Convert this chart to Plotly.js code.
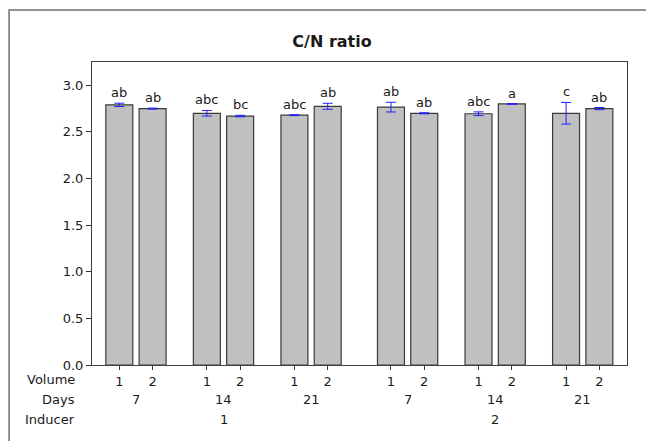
<!DOCTYPE html>
<html>
<head>
<meta charset="utf-8">
<script src="https://cdn.plot.ly/plotly-3.0.1.min.js"></script>
<style>html,body{margin:0;padding:0;background:#fff;}#chart{width:646px;height:441px;}</style>
</head>
<body>
<div id="chart"></div>
<script>
// ---- data ----
const inducer = [1, 1, 1, 1, 1, 1, 2, 2, 2, 2, 2, 2];
const days    = [7, 7, 14, 14, 21, 21, 7, 7, 14, 14, 21, 21];
const volume  = [1, 2, 1, 2, 1, 2, 1, 2, 1, 2, 1, 2];
const cnRatio = [2.79, 2.75, 2.70, 2.67, 2.68, 2.775, 2.766, 2.70, 2.695, 2.80, 2.70, 2.75];
const cnError = [0.018, 0.005, 0.03, 0.008, 0.005, 0.032, 0.052, 0.006, 0.02, 0.004, 0.116, 0.012];
const letters = ['ab', 'ab', 'abc', 'bc', 'abc', 'ab', 'ab', 'ab', 'abc', 'a', 'c', 'ab'];
const dayLevels = [7, 14, 21];
const inducerLevels = [1, 2];

// ---- layout of positions (spacing constants) ----
const GAP_DAY = 2.63, GAP_IND = 8.16;
const xpos = inducer.map((ind, i) =>
  (ind - 1) * GAP_IND + dayLevels.indexOf(days[i]) * GAP_DAY + (volume[i] - 1));

const FONT = 'DejaVu Sans, Verdana, sans-serif';
const TXT = '#1a1a1a';

const trace = {
  type: 'bar',
  x: xpos,
  y: cnRatio,
  width: 0.81,
  marker: {color: '#c0c0c0', line: {color: '#3a3a3a', width: 1.2}},
  error_y: {type: 'data', array: cnError, visible: true, color: '#2020ff', thickness: 1, width: 5},
  hoverinfo: 'none'
};

const annotations = [];
// significance letters
xpos.forEach((x, i) => {
  annotations.push({
    x: x, y: cnRatio[i] + cnError[i], xref: 'x', yref: 'y',
    text: letters[i], showarrow: false, yanchor: 'bottom', yshift: 1,
    font: {family: FONT, size: 13, color: TXT}
  });
});
// row labels
const rowY = {Volume: -0.0495, Days: -0.1155, Inducer: -0.1815};
Object.keys(rowY).forEach(k => {
  annotations.push({
    x: -0.028, y: rowY[k], xref: 'paper', yref: 'paper', text: k,
    showarrow: false, xanchor: 'right', yanchor: 'middle',
    font: {family: FONT, size: 13, color: TXT}
  });
});
// days labels
for (let i = 0; i < xpos.length; i += 2) {
  annotations.push({
    x: (xpos[i] + xpos[i + 1]) / 2, y: rowY.Days, xref: 'x', yref: 'paper',
    text: String(days[i]), showarrow: false, xanchor: 'center', yanchor: 'middle',
    font: {family: FONT, size: 13, color: TXT}
  });
}
// inducer labels
inducerLevels.forEach(lv => {
  const xs = xpos.filter((x, i) => inducer[i] === lv);
  annotations.push({
    x: (Math.min(...xs) + Math.max(...xs)) / 2, y: rowY.Inducer, xref: 'x', yref: 'paper',
    text: String(lv), showarrow: false, xanchor: 'center', yanchor: 'middle',
    font: {family: FONT, size: 13, color: TXT}
  });
});

const layout = {
  width: 646, height: 441,
  margin: {l: 92, r: 19, t: 62, b: 76, pad: 0},
  paper_bgcolor: '#ffffff', plot_bgcolor: '#ffffff',
  showlegend: false,
  title: {
    text: '<b>C/N ratio</b>', xref: 'container', yref: 'container',
    x: 0.514, xanchor: 'center', y: 0.905, yanchor: 'middle',
    font: {family: FONT, size: 16, color: TXT}
  },
  xaxis: {
    range: [-0.82, 15.25], tickmode: 'array', tickvals: xpos,
    ticktext: volume.map(String), ticks: 'outside', ticklen: 4, tickcolor: '#333',
    showgrid: false, zeroline: false, showline: true, linecolor: '#404040', linewidth: 1, mirror: true,
    tickfont: {family: FONT, size: 13, color: TXT}
  },
  yaxis: {
    range: [0, 3.25], tickmode: 'array', tickvals: [0, 0.5, 1, 1.5, 2, 2.5, 3],
    ticktext: ['0.0', '0.5', '1.0', '1.5', '2.0', '2.5', '3.0'],
    ticks: 'outside', ticklen: 5, tickcolor: '#333',
    showgrid: false, zeroline: false, showline: true, linecolor: '#404040', linewidth: 1, mirror: true,
    tickfont: {family: FONT, size: 13, color: TXT}
  },
  annotations: annotations,
  shapes: [{
    type: 'rect', xref: 'paper', yref: 'paper',
    x0: -0.155, x1: 1.05, y0: -0.27, y1: 1.1716,
    line: {color: '#707070', width: 1.5}, fillcolor: 'rgba(0,0,0,0)', layer: 'below'
  }]
};

Plotly.newPlot('chart', [trace], layout, {staticPlot: true, displayModeBar: false});
</script>
</body>
</html>
